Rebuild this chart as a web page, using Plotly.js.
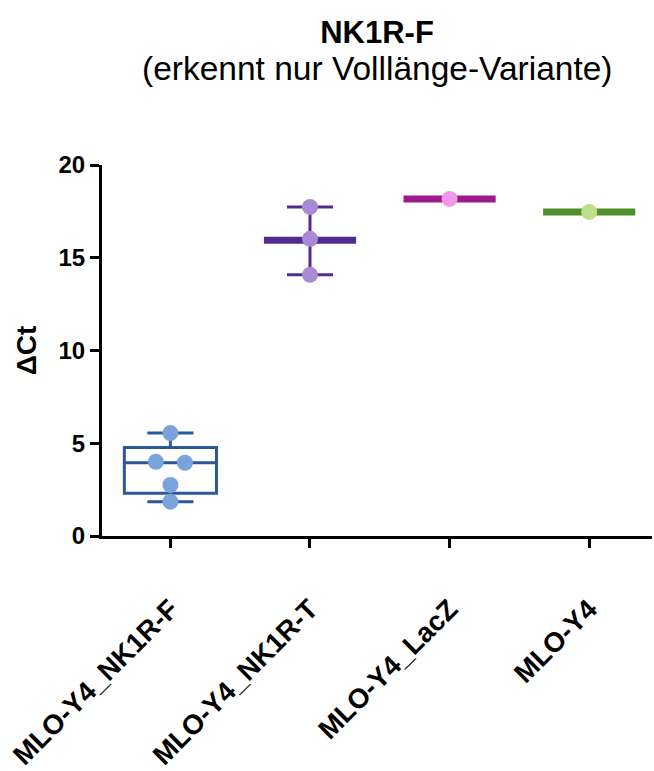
<!DOCTYPE html>
<html>
<head>
<meta charset="utf-8">
<script src="https://cdn.plot.ly/plotly-3.0.1.min.js"></script>
<style>html,body{margin:0;padding:0;background:#fff;}#chart{width:654px;height:771px;}</style>
</head>
<body>
<div id="chart"></div>
<script>
// ---- data ----
var categories = ["MLO-Y4_NK1R-F", "MLO-Y4_NK1R-T", "MLO-Y4_LacZ", "MLO-Y4"];
var nk1rF = [5.55, 4.0, 3.95, 2.75, 1.85];
var nk1rT = [17.74, 16.02, 14.08];
var lacZ = [18.17];
var mloY4 = [17.47];
var yTicks = [0, 5, 10, 15, 20];

// ---- styling ----
var FONT = "Arial, 'Liberation Sans', Helvetica, sans-serif";
var dark = ["#2c5897", "#522b8f", "#9a1a8c", "#4e8e2b"];
var light = ["#7ba3db", "#a88bd6", "#ef98e8", "#bcdf8c"];
var halfBar = 0.33;

function mean(a) { return a.reduce(function (s, v) { return s + v; }, 0) / a.length; }

// simple beeswarm: points with near-equal values are spread sideways
function swarmX(vals, center, step, tol) {
  var xs = vals.map(function () { return center; });
  var used = vals.map(function () { return false; });
  for (var i = 0; i < vals.length; i++) {
    if (used[i]) continue;
    var grp = [i];
    for (var j = i + 1; j < vals.length; j++) {
      if (!used[j] && Math.abs(vals[j] - vals[i]) < tol) grp.push(j);
    }
    grp.forEach(function (k, n) {
      used[k] = true;
      xs[k] = center + (n - (grp.length - 1) / 2) * step;
    });
  }
  return xs;
}

var traces = [];

// group 1: box and whiskers (min to max)
traces.push({
  type: "box",
  x: nk1rF.map(function () { return 0; }),
  y: nk1rF,
  boxpoints: false,
  quartilemethod: "exclusive",
  width: 2 * halfBar,
  whiskerwidth: 0.5,
  fillcolor: "rgba(255,255,255,0)",
  line: { color: dark[0], width: 3 },
  hoverinfo: "skip",
  showlegend: false
});

// groups 2-4: mean line (+ range error bars for group 2)
var others = [nk1rT, lacZ, mloY4];
others.forEach(function (vals, k) {
  var gi = k + 1;
  var m = mean(vals);
  traces.push({
    type: "scatter", mode: "lines",
    x: [gi - halfBar, gi + halfBar], y: [m, m],
    line: { color: dark[gi], width: 7 },
    hoverinfo: "skip", showlegend: false
  });
  if (vals.length > 1) {
    var mx = Math.max.apply(null, vals), mn = Math.min.apply(null, vals);
    traces.push({
      type: "scatter", mode: "markers",
      x: [gi], y: [m],
      marker: { size: 1, color: "rgba(0,0,0,0)" },
      error_y: { type: "data", symmetric: false, array: [mx - m], arrayminus: [m - mn],
                 color: dark[gi], thickness: 3, width: 23 },
      hoverinfo: "skip", showlegend: false
    });
  }
});

// individual points
var allGroups = [nk1rF, nk1rT, lacZ, mloY4];
allGroups.forEach(function (vals, gi) {
  traces.push({
    type: "scatter", mode: "markers",
    x: swarmX(vals, gi, 0.208, 0.5),
    y: vals,
    marker: { size: 16, color: light[gi], line: { width: 0 } },
    showlegend: false
  });
});

var layout = {
  width: 654, height: 771,
  margin: { l: 102, r: 2, t: 165, b: 235 },
  paper_bgcolor: "#fff", plot_bgcolor: "#fff",
  font: { family: FONT, color: "#000" },
  title: {
    text: "<b>NK1R-F</b>",
    font: { family: FONT, size: 31, color: "#000" },
    x: 0.5, xref: "paper", xanchor: "center",
    y: 1 - 32 / 771, yref: "container", yanchor: "middle"
  },
  annotations: [{
    text: "(erkennt nur Volllänge-Variante)",
    xref: "paper", yref: "paper", x: 0.5, y: (371 + 97) / 371,
    xanchor: "center", yanchor: "middle", showarrow: false,
    font: { family: FONT, size: 33.5, color: "#000" }
  }],
  xaxis: {
    range: [-0.49, 3.45],
    tickmode: "array", tickvals: [0, 1, 2, 3], ticktext: categories,
    tickangle: -45,
    ticks: "outside", ticklen: 9, tickwidth: 3, tickcolor: "#000",
    ticklabelstandoff: 34,
    ticklabeloverflow: "allow",
    tickfont: { family: FONT, size: 27.5, weight: "bold", color: "#000" },
    showline: true, linewidth: 3, linecolor: "#000",
    showgrid: false, zeroline: false, fixedrange: true
  },
  yaxis: {
    range: [0, 20],
    tickmode: "array", tickvals: yTicks, ticktext: yTicks.map(String),
    ticks: "outside", ticklen: 9, tickwidth: 3, tickcolor: "#000",
    tickfont: { family: FONT, size: 24, weight: "bold", color: "#000" },
    showline: true, linewidth: 3, linecolor: "#000",
    showgrid: false, zeroline: false, fixedrange: true,
    title: { text: "ΔCt", font: { family: FONT, size: 28, weight: "bold", color: "#000" }, standoff: 14 }
  }
};

Plotly.newPlot("chart", traces, layout, { displayModeBar: false, staticPlot: true });
</script>
</body>
</html>
